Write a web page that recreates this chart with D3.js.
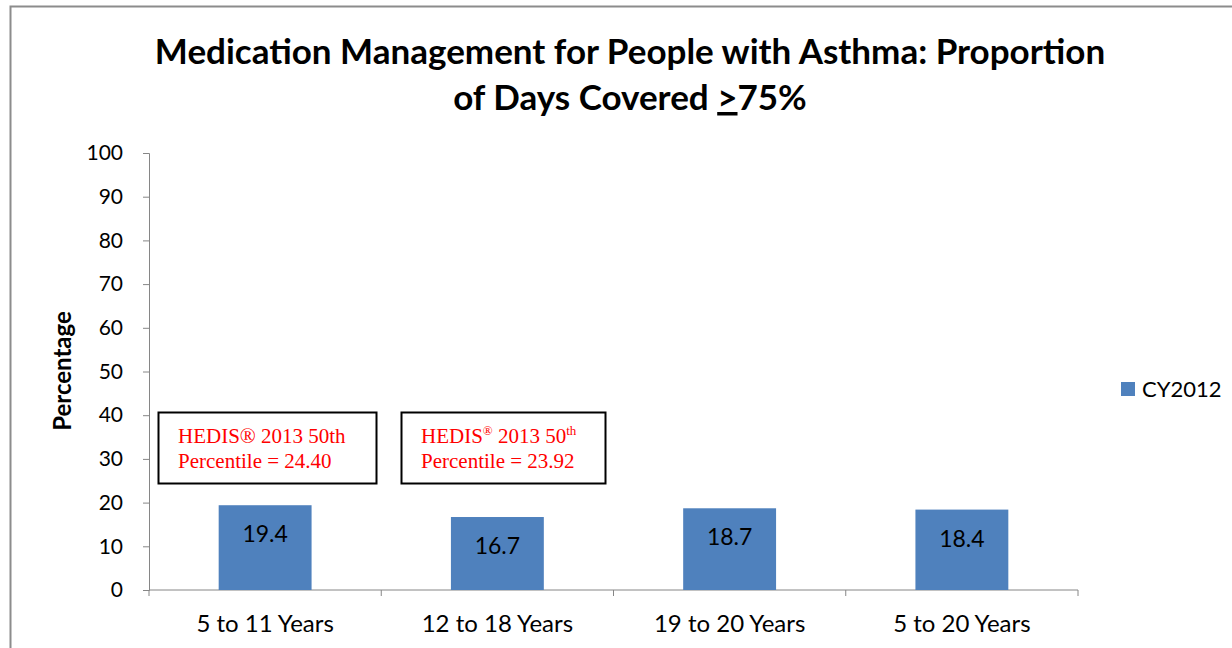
<!DOCTYPE html>
<html>
<head>
<meta charset="utf-8">
<script src="https://cdn.jsdelivr.net/npm/d3@7"></script>
<style>
  body { margin: 0; background: #fff; }
  svg { display: block; font-family: Lato, "Noto Sans", sans-serif; }
</style>
</head>
<body>
<div id="viz_container"></div>
<script>
// data
const categories = ["5 to 11 Years", "12 to 18 Years", "19 to 20 Years", "5 to 20 Years"];
const cy2012 = [19.4, 16.7, 18.7, 18.4];
const seriesName = "CY2012";
const yTicks = [0, 10, 20, 30, 40, 50, 60, 70, 80, 90, 100];
const benchmarks = [
  { cat: "5 to 11 Years", value: "24.40", sup: false },
  { cat: "12 to 18 Years", value: "23.92", sup: true }
];

const W = 1232, H = 648;
const margin = { top: 153, right: 154, bottom: 58, left: 149 };
const width = W - margin.left - margin.right;
const height = H - margin.top - margin.bottom;

const svg = d3.select("#viz_container")
  .append("svg")
  .attr("width", W)
  .attr("height", H);

// outer chart border
svg.append("rect")
  .attr("x", 10.5).attr("y", 6.5)
  .attr("width", W).attr("height", H)
  .attr("fill", "none")
  .attr("stroke", "#8c8c8c")
  .attr("stroke-width", 2);

// title
const title = svg.append("text")
  .attr("text-anchor", "middle")
  .attr("font-weight", "bold")
  .attr("font-size", 35)
  .attr("fill", "#000");
title.append("tspan").attr("x", 630).attr("y", 64)
  .text("Medication Management for People with Asthma: Proportion");
const t2 = title.append("tspan").attr("x", 630).attr("y", 110);
t2.append("tspan").text("of Days Covered ");
t2.append("tspan").attr("text-decoration", "underline").text(">");
t2.append("tspan").text("75%");

const g = svg.append("g")
  .attr("transform", `translate(${margin.left}, ${margin.top})`);

// scales
const x = d3.scaleBand()
  .domain(categories)
  .range([0, width])
  .paddingInner(0.6)
  .paddingOuter(0.3);
const xEdges = d3.scaleBand().domain(categories).range([0, width]);

const y = d3.scaleLinear()
  .domain([0, 100])
  .range([height, 0]);

// y axis
g.append("g")
  .call(d3.axisLeft(y).tickValues(yTicks).tickSize(6).tickPadding(20))
  .call(a => a.selectAll("line,path").attr("stroke", "#868686"))
  .call(a => a.selectAll("text").attr("font-size", 21).attr("fill", "#000")
    .style("font-family", "Lato, sans-serif"));

// x axis
const xAxis = g.append("g")
  .attr("transform", `translate(0, ${height})`);
xAxis.append("line")
  .attr("x1", 0).attr("x2", width)
  .attr("stroke", "#868686");
xAxis.selectAll(".edge")
  .data(categories.concat(["end"]))
  .join("line")
  .attr("x1", (d, i) => i < categories.length ? xEdges(d) : width)
  .attr("x2", (d, i) => i < categories.length ? xEdges(d) : width)
  .attr("y1", 0).attr("y2", 6)
  .attr("stroke", "#868686");
xAxis.selectAll(".cat")
  .data(categories)
  .join("text")
  .attr("x", d => xEdges(d) + xEdges.bandwidth() / 2)
  .attr("y", 42)
  .attr("text-anchor", "middle")
  .attr("font-size", 24)
  .text(d => d);

// y label
svg.append("text")
  .attr("transform", "translate(71, 371) rotate(-90)")
  .attr("text-anchor", "middle")
  .attr("font-weight", "bold")
  .attr("font-size", 24)
  .text("Percentage");

// bars
g.selectAll(".bar")
  .data(cy2012)
  .join("rect")
  .attr("x", (d, i) => x(categories[i]))
  .attr("y", d => y(d))
  .attr("width", x.bandwidth())
  .attr("height", d => height - y(d))
  .attr("fill", "#4f81bd");

g.selectAll(".lbl")
  .data(cy2012)
  .join("text")
  .attr("x", (d, i) => x(categories[i]) + x.bandwidth() / 2)
  .attr("y", d => y(d) + 37)
  .attr("text-anchor", "middle")
  .attr("font-size", 23)
  .text(d => d3.format(".1f")(d));

// benchmark boxes
const boxes = svg.append("g");
const boxX = [158, 401], boxW = [218, 204];
benchmarks.forEach((b, i) => {
  const bg = boxes.append("g").attr("transform", `translate(${boxX[i]}, 412)`);
  bg.append("rect")
    .attr("x", 0.5).attr("y", 0.5)
    .attr("width", boxW[i]).attr("height", 71)
    .attr("fill", "#fff").attr("stroke", "#000").attr("stroke-width", 2);
  const tx = bg.append("text")
    .attr("font-family", "'Liberation Serif', 'Times New Roman', serif")
    .attr("font-size", 21)
    .attr("fill", "#ff0000");
  const l1 = tx.append("tspan").attr("x", 20).attr("y", 31);
  if (b.sup) {
    l1.append("tspan").text("HEDIS");
    l1.append("tspan").attr("font-size", 13).attr("dy", -8).text("®");
    l1.append("tspan").attr("dy", 8).text(" 2013 50");
    l1.append("tspan").attr("font-size", 13).attr("dy", -8).text("th");
  } else {
    l1.text("HEDIS® 2013 50th");
  }
  tx.append("tspan").attr("x", 20).attr("y", 56).text("Percentile = " + b.value);
});

// legend
const leg = svg.append("g").attr("transform", "translate(1121, 382)");
leg.append("rect").attr("width", 14).attr("height", 14).attr("fill", "#4f81bd");
leg.append("text").attr("x", 21).attr("y", 15).attr("font-size", 22).text(seriesName);
</script>
</body>
</html>
